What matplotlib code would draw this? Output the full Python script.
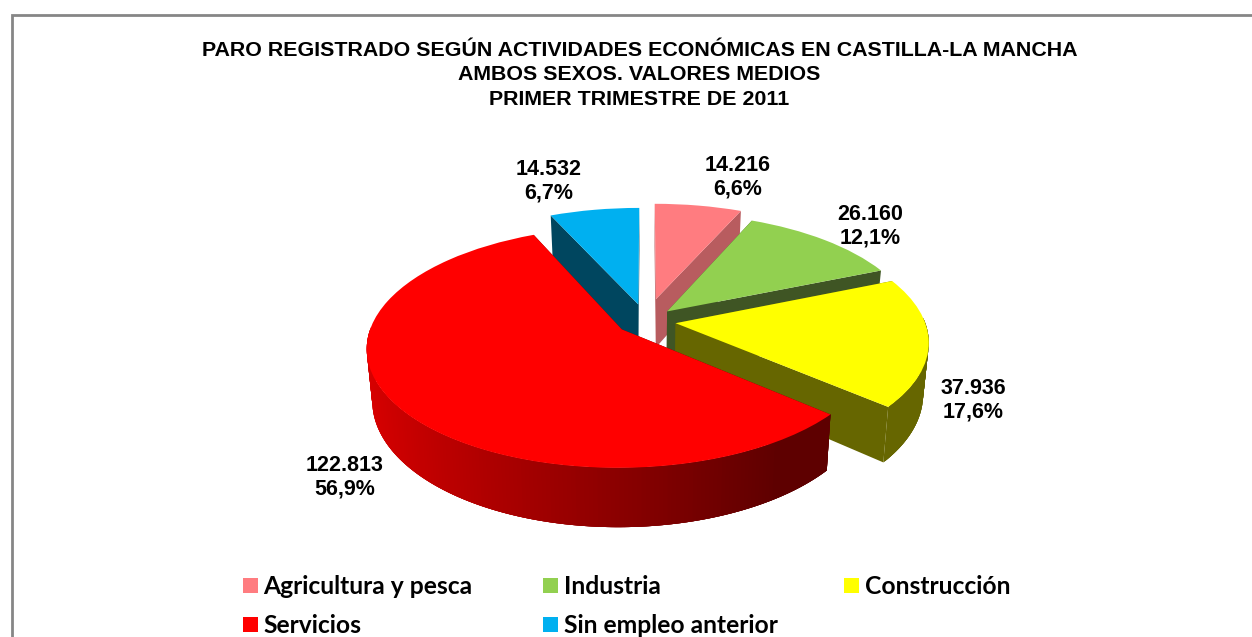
import matplotlib
matplotlib.use('Agg')
import matplotlib.pyplot as plt
import numpy as np
from matplotlib.patches import Rectangle
from matplotlib.transforms import Transform

categories = ['Agricultura y pesca', 'Industria', 'Construcción', 'Servicios', 'Sin empleo anterior']
values = [14216, 26160, 37936, 122813, 14532]
colors = ['#FF7C80', '#92D050', '#FFFF00', '#FF0000', '#00B0F0']
side_colors = ['#B85C5F', '#3F5524', '#666600', '#600000', '#00465F']
title_lines = ['PARO REGISTRADO SEGÚN ACTIVIDADES ECONÓMICAS EN CASTILLA-LA MANCHA',
               'AMBOS SEXOS. VALORES MEDIOS',
               'PRIMER TRIMESTRE DE 2011']

W, H = 1252, 637
CX, CY = 646, 321
RX, RY = 249, 115.3
PERSP = 0.1475
DEPTH = 50
EXPLODE = [0.20, 0.12, 0.12, 0.12, 0.15]


def project(u, v, z=0.0):
    # disc coords -> pixels, z=1 is the bottom of the pie
    s = 1 / (1 + PERSP * v)
    x = CX + RX * u * s * (1 - 0.02 * z)
    y = CY - RY * v * s + DEPTH * z * s
    return x, y


class Persp(Transform):
    input_dims = 2
    output_dims = 2
    is_separable = False

    def transform_non_affine(self, values):
        x, y = project(values[:, 0], values[:, 1])
        return np.column_stack([x, y])


def px(x, y):
    return x / W, 1 - y / H


fig = plt.figure(figsize=(W / 100, H / 100), dpi=100)
ax = fig.add_axes([0, 0, 1, 1])

wedges, _ = ax.pie(values, colors=colors, startangle=90, counterclock=False,
                   explode=EXPLODE, wedgeprops={'linewidth': 0})
ax.set_aspect('auto')
ax.set_xlim(0, W)
ax.set_ylim(H, 0)
ax.axis('off')

# back slices first, servicios last
draw_order = [0, 4, 1, 2, 3]
for n, i in enumerate(draw_order):
    w = wedges[i]
    z0 = 10 + n * 3
    w.set_transform(Persp() + ax.transData)
    w.set_zorder(z0 + 2)
    t = np.radians(np.linspace(w.theta1, w.theta2, 240))
    u = w.center[0] + np.cos(t)
    v = w.center[1] + np.sin(t)
    tip = w.center

    # cut faces
    for k in (0, -1):
        xa, ya = project(np.array([tip[0], u[k]]), np.array([tip[1], v[k]]))
        xb, yb = project(np.array([u[k], tip[0]]), np.array([v[k], tip[1]]), 1.0)
        ax.fill(np.r_[xa, xb], np.r_[ya, yb], color=side_colors[i], lw=0, zorder=z0)

    # outer wall in strips, each one overlaps the next so no seams show
    for j in range(len(t) - 1):
        if np.sin(t[j]) > 0.03:
            continue  # back of the pie, not seen
        a, b = j, min(j + 5, len(t))
        xa, ya = project(u[a:b], v[a:b])
        xb, yb = project(u[a:b][::-1], v[a:b][::-1], 1.0)
        c = side_colors[i]
        if categories[i] == 'Servicios':
            c = (np.interp(u[j], [-1.05, 0.45], [0.84, 0.37]), 0, 0)
        ax.fill(np.r_[xa, xb], np.r_[ya, yb], color=c, lw=0, zorder=z0 + 1)

# frame, only top and left are inside the picture
fig.add_artist(Rectangle(px(12, H + 20), (W + 20) / W, (H + 5) / H, transform=fig.transFigure,
                         facecolor='none', edgecolor='#868686', linewidth=2.0))

for line, y in zip(title_lines, [50.5, 74.5, 99.5]):
    fig.text(*px(639.5, y), line, ha='center', va='center', family='Liberation Sans',
             fontweight='bold', fontsize=15.4, color='black')

# data labels
total = sum(values)
label_pos = [(738, 177), (870, 226), (973, 400), (345, 477), (549, 181)]
for val, (lx, ly) in zip(values, label_pos):
    s = f'{val:,}'.replace(',', '.') + '\n' + f'{val / total * 100:.1f}'.replace('.', ',') + '%'
    fig.text(*px(lx, ly), s, ha='center', va='center', family='Liberation Sans',
             fontweight='bold', fontsize=15.5, color='black', linespacing=1.18)

# legend
legend_pos = [(243, 585), (543, 585), (844, 585), (243, 624), (543, 624)]
for name, col, (lx, ly) in zip(categories, colors, legend_pos):
    x0, y0 = px(lx, ly + 7.5)
    fig.add_artist(Rectangle((x0, y0), 15 / W, 15 / H, transform=fig.transFigure,
                             facecolor=col, edgecolor='none'))
    fig.text(*px(lx + 20.5, ly + 1.5), name, ha='left', va='center', family='Lato',
             fontweight='bold', fontsize=17.7, color='black')

plt.savefig('out.png', dpi=100)
